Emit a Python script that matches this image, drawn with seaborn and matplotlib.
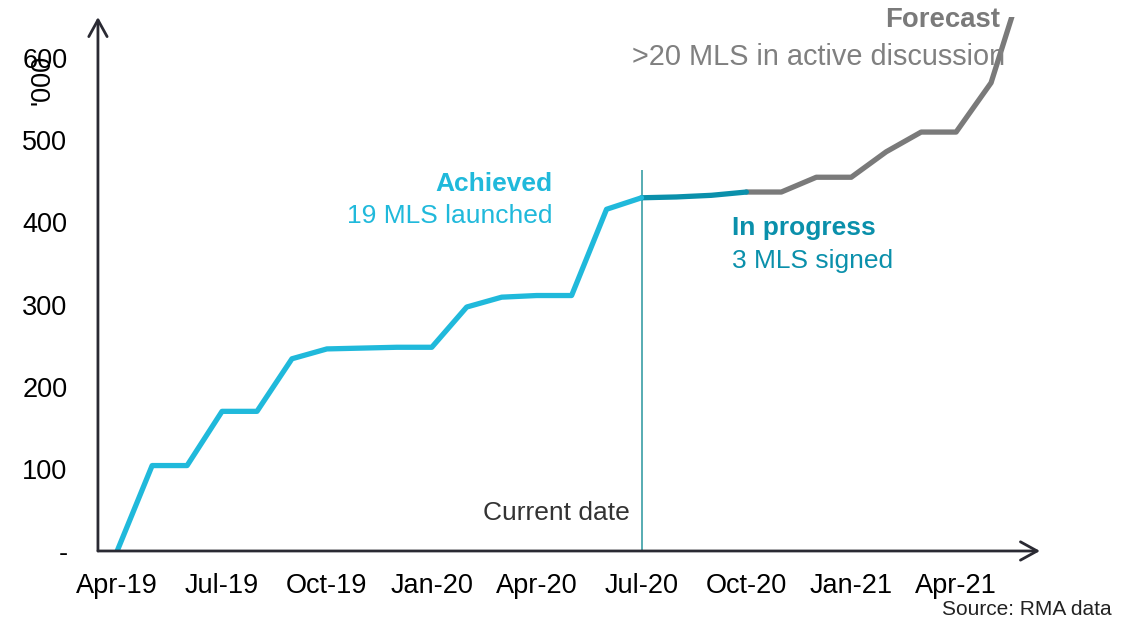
import pandas as pd
import seaborn as sns
import matplotlib.pyplot as plt

# --- data (thousands) ---
months = ['Apr-19', 'May-19', 'Jun-19', 'Jul-19', 'Aug-19', 'Sep-19', 'Oct-19', 'Nov-19', 'Dec-19',
          'Jan-20', 'Feb-20', 'Mar-20', 'Apr-20', 'May-20', 'Jun-20', 'Jul-20', 'Aug-20', 'Sep-20',
          'Oct-20', 'Nov-20', 'Dec-20', 'Jan-21', 'Feb-21', 'Mar-21', 'Apr-21', 'May-21', 'Jun-21']
achieved = [0, 104, 104, 170, 170, 234, 246, 247, 248, 248, 297, 309, 311, 311, 416, 430]
in_progress = [430, 431, 433, 437]
forecast = [437, 437, 455, 455, 486, 510, 510, 570, 705]
yticks = [0, 100, 200, 300, 400, 500, 600]
ytick_labels = ['-', '100', '200', '300', '400', '500', '600']
current_date = 'Jul-20'

c_ach = '#20B9DB'
c_prog = '#0A90AB'
c_fc = '#7A7A7A'
c_axis = '#2A2A33'

idx = {m: i for i, m in enumerate(months)}
df_a = pd.DataFrame({'x': range(0, len(achieved)), 'y': achieved})
start_p = idx['Jul-20']
df_p = pd.DataFrame({'x': range(start_p, start_p + len(in_progress)), 'y': in_progress})
start_f = start_p + len(in_progress) - 1
df_f = pd.DataFrame({'x': range(start_f, start_f + len(forecast)), 'y': forecast})

sns.set_theme(style='white')
plt.rcParams['font.family'] = ['Liberation Sans', 'DejaVu Sans']

fig = plt.figure(figsize=(11.35, 6.23), dpi=100)
ax = fig.add_axes([0.0863, 0.1156, 0.8300, 0.8570])

lw = 3.8
sns.lineplot(data=df_f, x='x', y='y', ax=ax, color=c_fc, linewidth=lw)
sns.lineplot(data=df_p, x='x', y='y', ax=ax, color=c_prog, linewidth=lw)
sns.lineplot(data=df_a, x='x', y='y', ax=ax, color=c_ach, linewidth=lw)

# current date marker
ax.vlines(idx[current_date], 0, 464, color='#3A9EA5', linewidth=1.2, zorder=1)
ax.text(idx[current_date] - 0.35, 46, 'Current date', ha='right', va='center',
        fontsize=19, color='#333333')

ax.set_xlim(-0.55, 26.4)
ax.set_ylim(0, 650)

ax.set_xticks(range(0, 25, 3))
ax.set_xticklabels(months[0:25:3])
ax.set_yticks(yticks)
ax.set_yticklabels(ytick_labels)
ax.tick_params(axis='x', length=0, pad=15.5, labelsize=19.5, colors='black')
ax.tick_params(axis='y', length=0, pad=22, labelsize=19.5, colors='black')
ax.set_xlabel('')
ax.set_ylabel('')
ax.text(-0.059, 0.882, "'000", transform=ax.transAxes, rotation=90, ha='center', va='center',
        fontsize=19.5, color='black')

for s in ['top', 'right', 'left', 'bottom']:
    ax.spines[s].set_visible(False)

# axes with open arrow heads
arrow = dict(arrowstyle='->,head_length=1.0,head_width=0.55', color=c_axis, lw=2,
             shrinkA=0, shrinkB=0)
ax.annotate('', xy=(0, 1.0), xytext=(0, 0), xycoords='axes fraction', arrowprops=arrow)
ax.annotate('', xy=(1.0, 0), xytext=(0, 0), xycoords='axes fraction', arrowprops=arrow)

# series annotations
ax.text(12.45, 447, 'Achieved', ha='right', va='center', fontsize=19, fontweight='bold', color=c_ach)
ax.text(12.45, 408, '19 MLS launched', ha='right', va='center', fontsize=19, color=c_ach)
ax.text(17.6, 393, 'In progress', ha='left', va='center', fontsize=19, fontweight='bold', color=c_prog)
ax.text(17.6, 353, '3 MLS signed', ha='left', va='center', fontsize=19, color=c_prog)
ax.text(25.25, 646, 'Forecast', ha='right', va='center', fontsize=19.8, fontweight='bold', color=c_fc)
ax.text(25.4, 601, '>20 MLS in active discussion', ha='right', va='center', fontsize=20.8, color='#808080')

fig.text(0.979, 0.021, 'Source: RMA data', ha='right', va='center', fontsize=15, color='#222222')

fig.savefig('out.png', dpi=100)
